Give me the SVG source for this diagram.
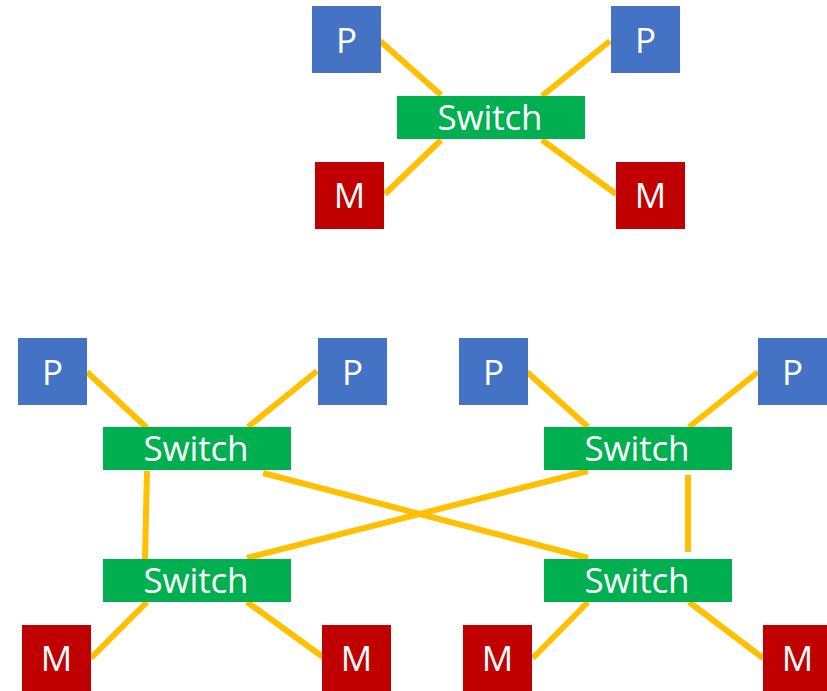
<svg xmlns="http://www.w3.org/2000/svg" width="827" height="691" viewBox="0 0 827 691">
  <style>
    .p { fill: #4472C4; }
    .m { fill: #C00000; }
    .sw { fill: #00B050; }
    .lbl { fill: #FFFFFF; font-family: "Open Sans", "Noto Sans", "DejaVu Sans", sans-serif; font-size: 35px; text-anchor: middle; }
    .links line { stroke: #FFC000; stroke-width: 6; }
  </style>
  <rect width="827" height="691" fill="#FFFFFF"/>

  <!-- connectors -->
  <g id="links" class="links">
    <!-- single-switch system -->
    <line x1="380" y1="41" x2="441" y2="95"/>
    <line x1="610" y1="41" x2="542" y2="96"/>
    <line x1="441" y1="140" x2="385" y2="194"/>
    <line x1="542" y1="140" x2="616" y2="194"/>
    <!-- four-switch system -->
    <line x1="87" y1="372" x2="147" y2="428"/>
    <line x1="317" y1="371" x2="248" y2="427"/>
    <line x1="527" y1="372" x2="588" y2="427"/>
    <line x1="758" y1="372" x2="689" y2="427"/>
    <line x1="147" y1="471" x2="145" y2="559"/>
    <line x1="688" y1="475" x2="688" y2="552"/>
    <line x1="263" y1="473" x2="588" y2="558"/>
    <line x1="247" y1="558" x2="588" y2="471"/>
    <line x1="147" y1="602" x2="91" y2="658"/>
    <line x1="247" y1="602" x2="323" y2="657"/>
    <line x1="588" y1="602" x2="533" y2="658"/>
    <line x1="689" y1="602" x2="763" y2="658"/>
  </g>

  <!-- single-switch system -->
  <g id="top-p1"><rect class="p" x="312" y="6" width="69" height="67"/><text class="lbl" x="346.5" y="53">P</text></g>
  <g id="top-p2"><rect class="p" x="611" y="6" width="69" height="67"/><text class="lbl" x="645.5" y="53">P</text></g>
  <g id="top-switch"><rect class="sw" x="397" y="96" width="188" height="43"/><text class="lbl" x="490" y="130" textLength="105">Switch</text></g>
  <g id="top-m1"><rect class="m" x="315" y="162" width="69" height="67"/><text class="lbl" x="349.5" y="208">M</text></g>
  <g id="top-m2"><rect class="m" x="616" y="162" width="69" height="67"/><text class="lbl" x="650.5" y="208">M</text></g>

  <!-- four-switch system -->
  <g id="p1"><rect class="p" x="18" y="338" width="69" height="67"/><text class="lbl" x="52.5" y="385">P</text></g>
  <g id="p2"><rect class="p" x="318" y="338" width="69" height="67"/><text class="lbl" x="352.5" y="385">P</text></g>
  <g id="p3"><rect class="p" x="459" y="338" width="69" height="67"/><text class="lbl" x="493.5" y="385">P</text></g>
  <g id="p4"><rect class="p" x="758" y="338" width="69" height="67"/><text class="lbl" x="792.5" y="385">P</text></g>

  <g id="switch1"><rect class="sw" x="103" y="427" width="188" height="43"/><text class="lbl" x="196" y="461" textLength="105">Switch</text></g>
  <g id="switch2"><rect class="sw" x="544" y="427" width="188" height="43"/><text class="lbl" x="637" y="461" textLength="105">Switch</text></g>
  <g id="switch3"><rect class="sw" x="103" y="559" width="188" height="43"/><text class="lbl" x="196" y="593" textLength="105">Switch</text></g>
  <g id="switch4"><rect class="sw" x="544" y="559" width="188" height="43"/><text class="lbl" x="637" y="593" textLength="105">Switch</text></g>

  <g id="m1"><rect class="m" x="22" y="625" width="69" height="67"/><text class="lbl" x="56.5" y="671">M</text></g>
  <g id="m2"><rect class="m" x="322" y="625" width="69" height="67"/><text class="lbl" x="356.5" y="671">M</text></g>
  <g id="m3"><rect class="m" x="463" y="625" width="69" height="67"/><text class="lbl" x="497.5" y="671">M</text></g>
  <g id="m4"><rect class="m" x="763" y="625" width="69" height="67"/><text class="lbl" x="797.5" y="671">M</text></g>
</svg>
